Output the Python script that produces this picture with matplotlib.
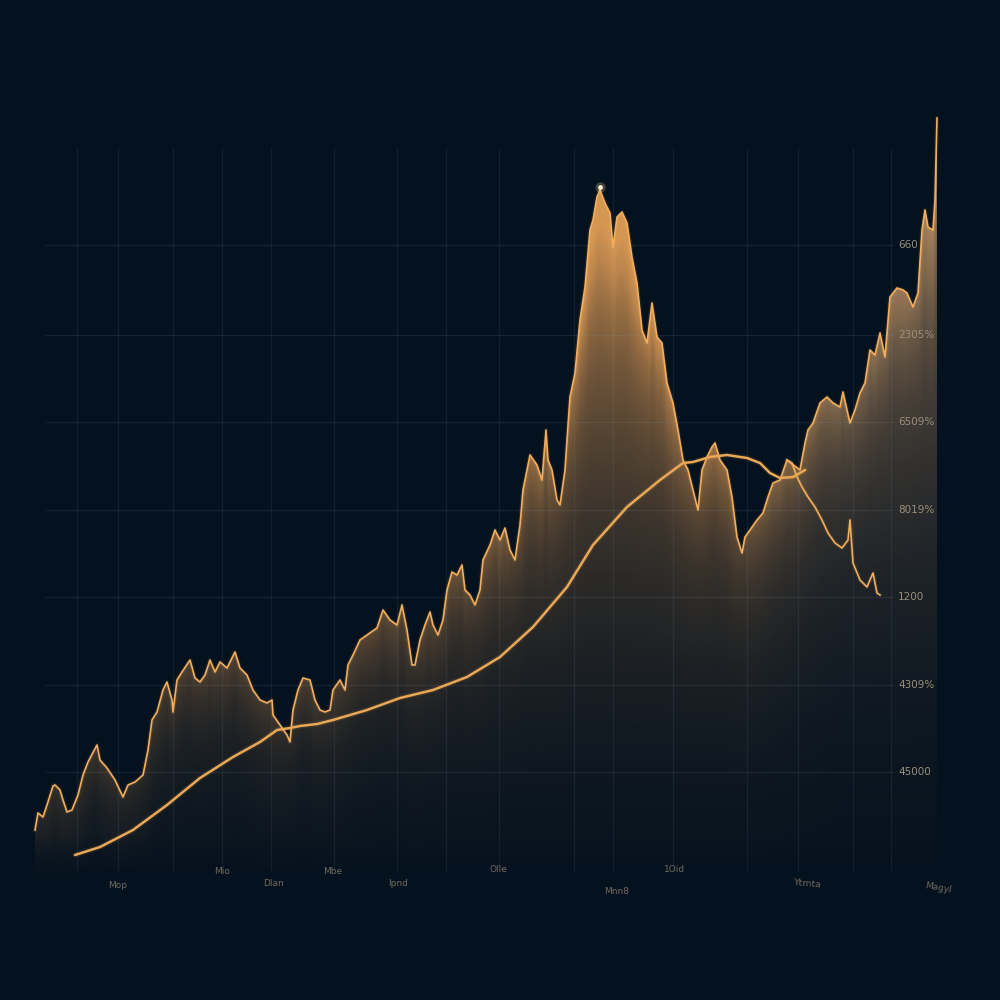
import numpy as np
import matplotlib
matplotlib.use("Agg")
import matplotlib.pyplot as plt

# ---------------- data (day index, price value on hidden scale) ----------------
price_a = [(0,50),(3,67),(8,63),(12,75),(18,94),(20,95),(25,90),(28,80),(32,68),(37,70),
           (43,85),(48,105),(53,118),(62,135),(65,120),(72,112),(80,100),(88,83),(93,95),(100,98),
           (108,105),(113,130),(117,160),(122,168),(128,190),(132,198),(137,180),(138,168),(142,200),(147,208),
           (155,220),(160,202),(165,198),(170,205),(175,220),(180,208),(185,218),(192,212),(200,228),(205,212),
           (212,205),(218,190),(225,180),(232,177),(237,180),(238,165),(245,155),(252,145),(255,138),(258,170),
           (263,190),(268,202),(275,200),(280,180),(285,170),(290,168),(295,170),(298,190),(305,200),(310,190),
           (313,215),(318,225),(325,240),(332,245),(342,252),(348,270),(355,260),(362,255),(367,275),(372,250),
           (377,215),(380,215),(385,240),(390,255),(395,268),(398,255),(403,245),(408,260),(412,290),(417,308),
           (422,305),(427,315),(430,290),(435,285),(440,275),(445,290),(448,320),(455,335),(460,350),(465,340),
           (470,352),(475,330),(480,320),(485,355),(488,390),(495,425),(502,415),(507,400),(511,450),(513,420),
           (517,410),(522,380),(525,375),(530,410),(532,440),(535,483),(540,507),(545,560),(550,593),(555,650),
           (558,660),(562,683),(565,690),(570,677),(575,667),(578,633),(582,663),(587,668),(592,657),(597,623),
           (602,597),(607,550),(612,537),(617,577),(622,543),(627,537),(632,497),(638,477),(643,450),(648,420),
           (653,410),(658,390),(663,370),(667,410),(672,423),(677,433),(680,437),(685,420),(692,410),(697,383),
           (702,343),(707,327),(710,343),(715,350),(722,360),(728,367),(733,383),(738,397),(745,400),(752,420),
           (757,417),(762,403),(767,393),(773,383),(780,373),(787,360),(793,347),(800,337),(807,332),(813,340),
           (815,360),(818,317),(825,300),(832,293),(838,307),(842,287),(845,285)]

price_b = [(752,420),(765,410),(770,437),(773,450),(778,457),(785,477),(792,483),(798,477),(805,473),
           (808,488),(812,470),(815,457),(820,470),(825,487),(830,497),(835,530),(840,525),(845,547),
           (850,523),(855,583),(862,592),(868,590),(872,587),(878,573),(883,587),(887,650),(890,670),
           (893,653),(898,650),(900,680),(902,762)]

moving_avg = [(40,25),(65,33),(98,50),(132,75),(165,102),(198,123),(225,138),(242,150),(255,152),
              (265,154),(282,156),(298,160),(332,170),(365,182),(398,190),(432,203),(465,223),(498,253),
              (532,293),(558,335),(592,373),(625,400),(648,417),(658,418),(675,423),(692,425),(712,422),
              (725,417),(735,407),(745,402),(758,403),(770,410)]

peak_point = (565, 693)

h_grid = [635, 545, 458, 370, 283, 195, 108]
h_labels = ["660", "2305%", "6509%", "8019%", "1200", "4309%", "45000"]
v_grid = [42, 83, 138, 187, 236, 299, 362, 411, 464, 539, 578, 638, 712, 763, 818, 856]

x_labels = ["Mop", "Mio", "Dlan", "Mbe", "Ipnd", "Olle", "Mnn8", "1Oid", "Ytrnta", "Magyl"]
x_label_pos = [83, 187, 238, 298, 363, 463, 582, 640, 772, 903]
x_label_val = [-6, 9, -3, 9, -3, 10, -11, 10, -4, -8]
x_label_rot = [0, 0, 0, 0, 0, 0, 0, 0, -5, -10]

# ---------------- style ----------------
BG = "#04111e"
LINE = "#f2ae5c"
MA = "#eaa856"
TXT = "#706a60"

fig = plt.figure(figsize=(10, 10), dpi=100, facecolor=BG)
ax = fig.add_axes([0, 0, 1, 1])
ax.set_facecolor(BG)
XL = (-35, 965)
YL = (-120, 880)

def unzip(p):
    a = np.array(p, dtype=float)
    return a[:, 0], a[:, 1]

xa, ya = unzip(price_a)
xb, yb = unzip(price_b)
xm, ym = unzip(moving_avg)

# ---------------- gradient area under the price envelope ----------------
NX, NV = 1000, 800
xs = np.linspace(XL[0] + 0.5, XL[1] - 0.5, NX)
vs = np.linspace(0.5, 799.5, NV)
ea = np.interp(xs, xa, ya, left=-1, right=-1)
eb = np.interp(xs, xb, yb, left=-1, right=-1)
env = np.maximum(ea, eb)
valid = env > 0
k = np.exp(-0.5 * (np.arange(-45, 46) / 15.0) ** 2)
k /= k.sum()
env_pos = np.where(valid, env, 0.0)
num = np.convolve(env_pos, k, mode="same")
den = np.convolve(valid.astype(float), k, mode="same")
env_s = np.where(den > 0, num / np.maximum(den, 1e-9), 0)
env_s = np.maximum(env_s, env)

V, E = np.meshgrid(vs, env, indexing="ij")
ES = np.broadcast_to(env_s[None, :], V.shape)
X = np.broadcast_to(xs[None, :], V.shape)
inside = (V <= E) & (E > 0)
dim = 1.0 - 0.30 * np.clip((X - 700) / 110.0, 0, 1)
g = np.clip(V / 700.0, 0, 1)
loc = np.exp(-np.clip(ES - V, 0, None) / 70.0)
alpha = dim * (0.07 + 0.78 * g ** 1.4) + 0.26 * loc
alpha *= np.clip(V / 45.0, 0, 1)
alpha = np.where(inside, np.clip(alpha, 0, 0.95), 0)
c_lo = np.array([0.24, 0.21, 0.18])
c_hi = np.array([0.89, 0.62, 0.34])
t = np.clip(g + 0.3 * loc, 0, 1)[..., None]
col = c_lo + (c_hi - c_lo) * t
gray = col.mean(axis=-1, keepdims=True)
col = col * dim[..., None] + gray * (1 - dim[..., None])
img = np.concatenate([col, alpha[..., None]], axis=-1)
ax.imshow(img, extent=[XL[0], XL[1], 0, 800], origin="lower", aspect="auto",
          interpolation="bilinear", zorder=2)

# ---------------- grid (drawn over the fill, faint) ----------------
for gl in h_grid:
    ax.plot([10, 858], [gl, gl], color="#8fa0b0", alpha=0.12, lw=0.9, zorder=3)
for gl in v_grid:
    ax.plot([gl, gl], [10, 732], color="#8fa0b0", alpha=0.10, lw=0.9, zorder=3)

# ---------------- lines ----------------
ax.plot(xa, ya, color=LINE, lw=3.0, alpha=0.10, zorder=4)
ax.plot(xb, yb, color=LINE, lw=3.0, alpha=0.10, zorder=4)
ax.plot(xa, ya, color=LINE, lw=1.2, zorder=5)
ax.plot(xb, yb, color=LINE, lw=1.2, zorder=5)
ax.plot(xm, ym, color=MA, lw=4.0, alpha=0.10, zorder=5, solid_capstyle="round")
ax.plot(xm, ym, color=MA, lw=1.8, zorder=6, solid_capstyle="round")

# glowing peak dot
ax.scatter([peak_point[0]], [peak_point[1]], s=55, color="#ffd9a0", alpha=0.25, zorder=7, lw=0)
ax.scatter([peak_point[0]], [peak_point[1]], s=12, color="#fff0d0", zorder=8, lw=0)

# right labels
for gl, tx in zip(h_grid, h_labels):
    ax.text(863, gl, tx, color="#9a8e7a", fontsize=7.5, va="center", ha="left", zorder=9)

# bottom labels
for tx, xp, yv, r in zip(x_labels, x_label_pos, x_label_val, x_label_rot):
    ax.text(xp, yv, tx, color=TXT, fontsize=6.5, ha="center", va="center", rotation=r, zorder=9)

ax.set_xlim(*XL)
ax.set_ylim(*YL)
ax.axis("off")
fig.savefig("out.png", dpi=100, facecolor=BG)
